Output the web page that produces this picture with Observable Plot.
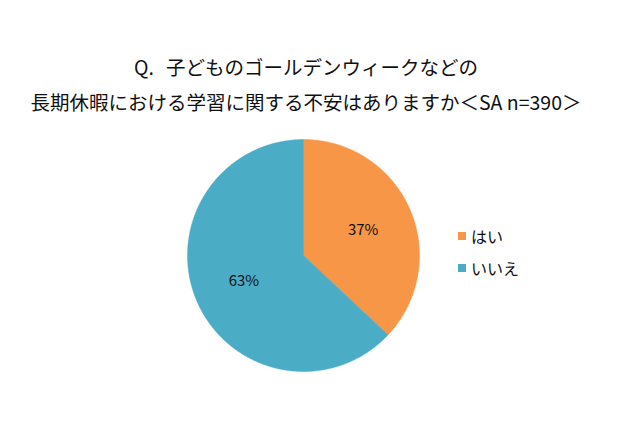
<!DOCTYPE html>
<html><head><meta charset="utf-8">
<script src="https://cdn.jsdelivr.net/npm/d3@7"></script>
<script src="https://cdn.jsdelivr.net/npm/@observablehq/plot@0.6"></script>
<style>
html,body{margin:0;padding:0;background:#fff;}
#wrap{position:relative;width:640px;height:426px;font-family:"Noto Sans CJK JP","Noto Sans",sans-serif;color:#111;overflow:hidden;}
#title{position:absolute;left:0;top:49px;width:612px;text-align:center;font-size:19.5px;line-height:35px;white-space:nowrap;}
#chart{position:absolute;left:0;top:120px;}
#legend{position:absolute;left:458px;top:0;font-size:16px;}
.li{position:absolute;left:0;white-space:nowrap;display:flex;align-items:center;height:20px;}
.sw{width:8px;height:8px;margin-right:5px;}
.gap{display:inline-block;width:12px;}
</style></head>
<body><div id="wrap">
<div id="title"><div>Q.<span class="gap"></span>子どものゴールデンウィークなどの</div><div>長期休暇における学習に関する不安はありますか＜SA n=390＞</div></div>
<div id="chart"></div>
<div id="legend"></div>
</div>
<script>
const categories = ["はい", "いいえ"];
const values = [37, 63];
const colors = ["#F79646", "#4BACC6"];
const labels = ["37%", "63%"];

const arcs = d3.pie().sort(null).value(d => d)(values);
const slices = arcs.map((a, i) => {
  const pts = [{x: 0, y: 0}];
  const step = Math.PI / 720;
  for (let t = a.startAngle; t < a.endAngle; t += step) pts.push({x: Math.sin(t), y: Math.cos(t)});
  pts.push({x: Math.sin(a.endAngle), y: Math.cos(a.endAngle)});
  pts.push({x: 0, y: 0});
  return pts;
});
const labelData = arcs.map((a, i) => {
  const m = (a.startAngle + a.endAngle) / 2;
  return {x: 0.56 * Math.sin(m), y: 0.56 * Math.cos(m), text: labels[i]};
});

const cx = 303, cy = 135, r = 116;
const plot = Plot.plot({
  width: 640, height: 306, margin: 0,
  x: {domain: [-1, 1], range: [cx - r, cx + r], axis: null},
  y: {domain: [-1, 1], range: [cy + r, cy - r], axis: null},
  style: {background: "transparent", fontFamily: '"Noto Sans CJK JP","Noto Sans",sans-serif'},
  marks: [
    ...slices.map((s, i) => Plot.line(s, {x: "x", y: "y", fill: colors[i], stroke: colors[i], strokeWidth: 0.5})),
    Plot.text(labelData, {x: "x", y: "y", text: "text", fontSize: 15, fill: "#111"})
  ]
});
document.getElementById("chart").appendChild(plot);

const leg = document.getElementById("legend");
categories.forEach((c, i) => {
  const d = document.createElement("div");
  d.className = "li";
  d.style.top = (226 + i * 32) + "px";
  d.innerHTML = `<span class="sw" style="background:${colors[i]}"></span><span>${c}</span>`;
  leg.appendChild(d);
});
</script>
</body></html>
